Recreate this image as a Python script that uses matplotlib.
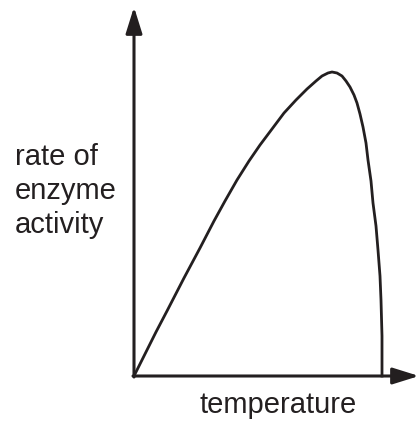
import matplotlib.pyplot as plt

# curve (temperature, rate) in arbitrary units
temperature = [0, 10, 22, 33, 50, 66, 80, 91, 103, 115, 126, 138, 150, 162, 173, 182, 188,
               194, 198, 203, 208, 212, 216, 220, 223, 226, 229, 232, 234, 237, 239, 242,
               244, 246, 247, 248, 248]
rate = [0, 20, 44, 65, 98, 128, 155, 175, 196, 215, 231, 247, 263, 276, 287, 295, 300,
        303, 304, 303, 300, 295, 289, 281, 273, 262, 249, 233, 216, 195, 173, 150,
        126, 100, 76, 40, 0]

x_label = "temperature"
y_label = ["rate of", "enzyme", "activity"]

ink = "#231f20"
W, H = 419, 426
fig = plt.figure(figsize=(W / 100, H / 100), dpi=100)
plt.rcParams['font.family'] = ['Liberation Sans', 'DejaVu Sans']

ox, oy = 134, 376
ax = fig.add_axes([ox / W, (H - oy) / H, (W - ox) / W, oy / H])
ax.set_xlim(0, W - ox)
ax.set_ylim(0, oy)
ax.axis('off')

ax.plot(temperature, rate, color=ink, lw=2.0, solid_joinstyle='round', clip_on=False)

arrow = dict(arrowstyle='-|>,head_length=1.6,head_width=0.5', mutation_scale=10,
             color=ink, lw=2.2, shrinkA=0, shrinkB=0)
ax.annotate('', xy=(0, oy - 7), xytext=(0, -1), arrowprops=arrow, annotation_clip=False)
ax.annotate('', xy=(W - ox, 0), xytext=(-1, 0), arrowprops=arrow, annotation_clip=False)

fig.text(278 / W, 1 - 413 / H, x_label, ha='center', va='baseline', fontsize=21, color=ink)
for i, s in enumerate(y_label):
    fig.text(15 / W, 1 - (165 + 34 * i) / H, s, ha='left', va='baseline', fontsize=21, color=ink)

fig.savefig('out.png', dpi=100)
